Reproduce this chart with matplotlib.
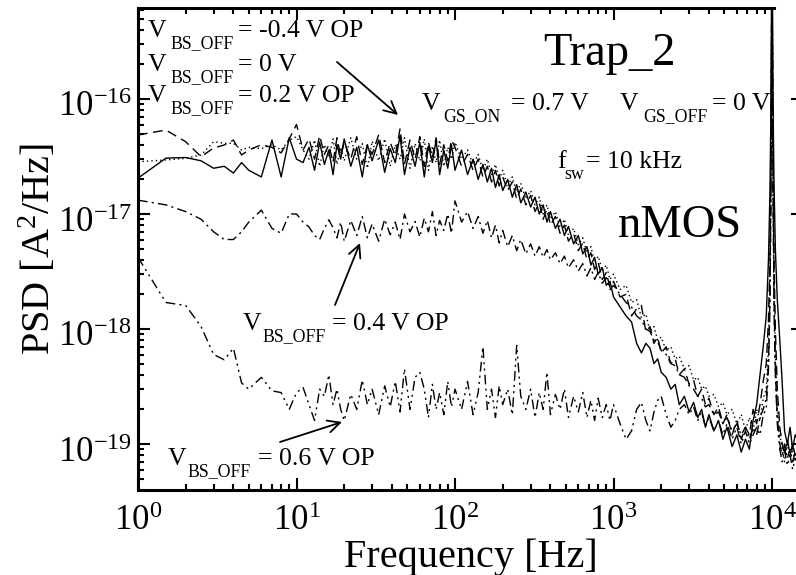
import numpy as np
import matplotlib
matplotlib.use("Agg")
import matplotlib.pyplot as plt
import matplotlib.transforms as mtransforms
from matplotlib.ticker import LogLocator, LogFormatterSciNotation, NullFormatter

plt.rcParams["font.family"] = ["Liberation Serif", "DejaVu Serif"]
plt.rcParams["mathtext.fontset"] = "custom"
plt.rcParams["mathtext.rm"] = "Liberation Serif"
plt.rcParams["mathtext.it"] = "Liberation Serif:italic"
plt.rcParams["mathtext.bf"] = "Liberation Serif:bold"
plt.rcParams["axes.unicode_minus"] = False

# Frequency points [Hz]
freq = [
    1, 1.5, 2, 2.5, 3, 3.5, 4, 4.5, 5, 6, 7, 8, 9,
    10, 11, 12, 13, 14, 15, 16, 17, 18, 19, 20, 22, 24, 26, 28, 30, 33, 36, 39, 42, 45, 48,
    52, 56, 60, 64, 68, 72, 76, 80, 85, 90, 95,
    100, 110, 120, 130, 140, 150, 160, 170, 180, 190, 200, 215, 230, 245, 260, 280, 300, 320,
    340, 360, 380, 400, 430, 460, 490, 520, 560, 600, 640, 680, 720, 760, 800, 850, 900, 950,
    1000, 1100, 1200, 1300, 1400, 1500, 1600, 1700, 1800, 1900, 2000, 2150, 2300, 2450, 2600,
    2800, 3000, 3200, 3400, 3600, 3800, 4000, 4300, 4600, 4900, 5200, 5600, 6000, 6400, 6800,
    7200, 7600, 8000, 8400, 8800,
    9200, 9500, 9700, 9850, 10000, 10150, 10300, 10500, 10800, 11200, 11600, 12000, 12500,
    13000, 13500, 14000, 15000,
]

# Drain-current noise PSD in units of 1e-18 A^2/Hz, one list per body bias
psd_bs_0 = [  # V_BS_OFF = 0 V (solid)
    20.5, 30.6, 31, 29, 25, 26, 22.7, 28, 24, 21, 44, 21, 46,
    30, 28, 38, 24, 42, 27, 36, 22, 40, 30, 45, 26, 38, 21, 40, 29, 44, 23, 37, 28, 48, 22,
    38, 26, 42, 21, 39, 28, 44, 22, 36, 25, 40,
    24, 36, 22, 30, 20, 27, 19, 25, 17, 22, 16, 20, 14, 18, 12.5, 15.5, 11.5, 14,
    10, 12, 8.5, 10.5, 7.5, 9, 6.5, 7.8, 5.5, 6.5, 4.5, 5.2, 3.6, 4.2, 3.0, 3.4, 2.4, 2.6,
    1.9, 1.56, 1.3, 1.15, 0.75, 0.62, 0.75, 0.68, 0.5, 0.55, 0.42, 0.38, 0.3, 0.33, 0.22,
    0.26, 0.19, 0.23, 0.17, 0.2, 0.14, 0.18, 0.13, 0.16, 0.11, 0.14, 0.095, 0.12, 0.085, 0.11,
    0.09, 0.16, 0.22, 0.4, 0.7,
    1.3, 4, 15, 80, 3000, 90, 18, 5, 1.8, 0.8, 0.34, 0.13, 0.1,
    0.14, 0.09, 0.12, 0.1,
]
psd_bs_m04 = [  # V_BS_OFF = -0.4 V OP (dashed)
    48.6, 53.7, 42.5, 31.5, 37.5, 39.8, 44, 32.6, 36, 40, 38, 34, 45,
    60, 36, 45, 30, 48, 33, 40, 28, 46, 32, 42, 30, 47, 27, 40, 33, 49, 28, 42, 32, 55, 27,
    44, 30, 47, 26, 42, 31, 46, 27, 40, 29, 44,
    38, 26, 33, 24, 30, 21, 26, 19, 24, 17.5, 21, 16, 19, 13.5, 16.5, 12, 14.5, 10.5,
    12.5, 9, 11, 8, 9.5, 6.8, 8, 5.8, 6.8, 4.8, 5.6, 4, 4.6, 3.3, 3.8, 2.7, 3.1, 2.3,
    2.6, 1.9, 2.0, 1.3, 1.5, 1.6, 0.95, 1.05, 0.75, 0.85, 0.62, 0.7, 0.5, 0.55, 0.4,
    0.45, 0.33, 0.36, 0.26, 0.3, 0.22, 0.25, 0.18, 0.21, 0.15, 0.18, 0.12, 0.16, 0.11, 0.14,
    0.12, 0.2, 0.15, 0.22, 0.35,
    0.5, 1.2, 4, 30, 2500, 30, 4, 1.0, 0.3, 0.14, 0.1, 0.08, 0.11,
    0.08, 0.1, 0.08, 0.09,
]
psd_bs_p02 = [  # V_BS_OFF = 0.2 V OP (dotted)
    28.5, 29.5, 30.5, 32.6, 42.5, 41.2, 41.2, 36, 38, 37, 40, 36, 44,
    47, 36, 30, 44, 26, 40, 31, 45, 27, 38, 29, 46, 30, 41, 25, 43, 29, 45, 26, 40, 30, 46,
    25, 41, 29, 45, 24, 39, 28, 44, 26, 38, 30,
    42, 30, 36, 27, 33, 24, 30, 22, 27, 20, 24, 17.5, 21, 15.5, 18.5, 13.5, 16, 12,
    14, 10, 12, 9, 10.5, 7.6, 9, 6.5, 7.5, 5.4, 6.2, 4.6, 5.2, 3.8, 4.3, 3.2, 3.6, 2.7,
    3.0, 2.2, 2.4, 1.7, 1.8, 1.25, 1.35, 0.95, 1.05, 0.8, 0.85, 0.65, 0.7, 0.55, 0.58,
    0.45, 0.48, 0.36, 0.38, 0.3, 0.32, 0.26, 0.27, 0.21, 0.23, 0.18, 0.2, 0.15, 0.18, 0.13,
    0.17, 0.13, 0.2, 0.16, 0.25,
    0.3, 0.7, 2.5, 25, 2500, 25, 2.5, 0.6, 0.2, 0.12, 0.09, 0.07, 0.1,
    0.075, 0.09, 0.07, 0.08,
]
psd_bs_p04 = [  # V_BS_OFF = 0.4 V OP (dash-dot)
    13.2, 12, 10.5, 9, 7, 6, 6, 7, 8.5, 10.8, 7.5, 6.8, 10,
    10, 8.5, 7.7, 6.5, 6, 7.5, 8.9, 7.6, 6.2, 8.5, 5.8, 8.8, 6.5, 9.5, 6.2, 8.2, 5.8, 9, 6.6,
    8.5, 6, 10, 7, 8.6, 6.3, 9.2, 7, 10.5, 6.5, 8.8, 7.2, 10, 6.8,
    13, 8.5, 10.5, 7.5, 9.5, 6.8, 8.8, 6.2, 8, 5.6, 7.2, 5.2, 6.5, 4.8, 6, 4.5, 5.5, 4.3,
    5.2, 4.2, 4.9, 4, 4.6, 3.7, 4.3, 3.4, 4.0, 3.2, 3.7, 2.9, 3.4, 2.7, 3.1, 2.5, 2.8, 2.2,
    2.4, 2.0, 1.7, 1.55, 1.3, 1.2, 1.0, 0.95, 0.8, 0.78, 0.65, 0.6, 0.5, 0.48, 0.4,
    0.38, 0.32, 0.3, 0.26, 0.25, 0.21, 0.22, 0.18, 0.19, 0.15, 0.17, 0.13, 0.15, 0.12, 0.14,
    0.11, 0.14, 0.12, 0.17, 0.2,
    0.25, 0.5, 1.8, 20, 2500, 20, 1.8, 0.45, 0.17, 0.1, 0.08, 0.1, 0.075,
    0.09, 0.07, 0.085, 0.07,
]
psd_bs_p06 = [  # V_BS_OFF = 0.6 V OP (dash-dot-dot)
    4.2, 1.7, 1.6, 1.05, 0.6, 0.54, 0.68, 0.34, 0.3, 0.38, 0.29, 0.28, 0.2,
    0.28, 0.31, 0.22, 0.16, 0.3, 0.26, 0.4, 0.22, 0.3, 0.2, 0.16, 0.27, 0.2, 0.36, 0.22, 0.3,
    0.18, 0.32, 0.21, 0.35, 0.19, 0.45, 0.2, 0.38, 0.42, 0.3, 0.17, 0.33, 0.2, 0.28, 0.18,
    0.35, 0.21,
    0.3, 0.2, 0.35, 0.18, 0.28, 0.7, 0.2, 0.3, 0.17, 0.32, 0.22, 0.3, 0.18, 0.72, 0.26, 0.2,
    0.3, 0.17, 0.28, 0.2, 0.42, 0.18, 0.27, 0.2, 0.3, 0.17, 0.26, 0.19, 0.28, 0.17, 0.24,
    0.16, 0.25, 0.17, 0.22, 0.16,
    0.22, 0.15, 0.11, 0.13, 0.2, 0.23, 0.16, 0.13, 0.19, 0.24, 0.26, 0.18, 0.14, 0.16, 0.2,
    0.22, 0.18, 0.21, 0.16, 0.19, 0.14, 0.17, 0.13, 0.16, 0.12, 0.15, 0.11, 0.14, 0.1, 0.13,
    0.1, 0.12, 0.14, 0.12, 0.18,
    0.2, 0.45, 1.5, 15, 2000, 15, 1.5, 0.4, 0.15, 0.09, 0.07, 0.09, 0.065,
    0.08, 0.06, 0.075, 0.065,
]

x_ticks = [1, 10, 100, 1000, 10000]
y_ticks = [1e-19, 1e-18, 1e-17, 1e-16]

series = [
    (psd_bs_0, "-"),
    (psd_bs_m04, (0, (7, 4))),
    (psd_bs_p02, (0, (1, 2.2))),
    (psd_bs_p04, (0, (7, 3, 1.5, 3))),
    (psd_bs_p06, (0, (7, 3, 1.5, 3, 1.5, 3))),
]

W, H = 796, 575
fig = plt.figure(figsize=(W / 100, H / 100), dpi=100)
ax = fig.add_axes([138 / W, 1 - 490 / H, (803 - 138) / W, (490 - 8) / H])

f = np.asarray(freq, dtype=float)
for vals, ls in series:
    ax.plot(f, np.asarray(vals) * 1e-18, color="black", lw=1.0, linestyle=ls)

ax.set_xscale("log")
ax.set_yscale("log")
ax.set_xlim(1, 10 ** ((803 - 138) / 158.5))
ax.set_ylim(10 ** (-19 - 46 / 115), 10 ** (-16 + 91 / 115))

ax.set_xticks(x_ticks)
ax.set_yticks(y_ticks)
ax.xaxis.set_minor_locator(LogLocator(base=10, subs=np.arange(2, 10), numticks=20))
ax.yaxis.set_minor_locator(LogLocator(base=10, subs=np.arange(2, 10), numticks=20))
ax.xaxis.set_major_formatter(LogFormatterSciNotation())
ax.yaxis.set_major_formatter(LogFormatterSciNotation())
ax.xaxis.set_minor_formatter(NullFormatter())
ax.yaxis.set_minor_formatter(NullFormatter())

for sp in ax.spines.values():
    sp.set_linewidth(2.2)
ax.spines["top"].set_bounds(1, 10 ** ((774 - 138) / 158.5))

ax.tick_params(which="both", direction="in", top=True, right=True, width=1.5)
ax.tick_params(which="major", length=8.5, labelsize=25)
ax.tick_params(which="minor", length=4.3)
ax.tick_params(axis="x", which="major", pad=11)
ax.tick_params(axis="y", which="major", pad=4)

shift = mtransforms.ScaledTranslation(0, -5 / 100, fig.dpi_scale_trans)
for lab in ax.get_yticklabels():
    lab.set_transform(lab.get_transform() + shift)

ax.set_xlabel("Frequency [Hz]", fontsize=29, labelpad=0)
ax.set_ylabel(r"PSD [A$^2$/Hz]", fontsize=29, labelpad=-1)

MAIN, SUB = 18.5, 12.8


def put(x, y, s, size):
    fig.text(x / W, 1 - y / H, s, fontsize=size, ha="left", va="baseline")


def subscripted(x_sym, x_sub, x_rest, base, sym, sub, rest):
    put(x_sym, base, sym, MAIN)
    put(x_sub, base + 11, sub, SUB)
    put(x_rest, base, rest, MAIN)


subscripted(148, 170, 238, 37, "V", "BS_OFF", "= -0.4 V OP")
subscripted(148, 170, 238, 71, "V", "BS_OFF", "= 0 V")
subscripted(148, 170, 238, 102, "V", "BS_OFF", "= 0.2 V OP")
subscripted(243, 262, 332, 330, "V", "BS_OFF", "= 0.4 V OP")
subscripted(168, 187, 258, 465, "V", "BS_OFF", "= 0.6 V OP")
subscripted(422, 443, 511, 110, "V", "GS_ON", "= 0.7 V")
subscripted(620, 643, 712, 110, "V", "GS_OFF", "= 0 V")
subscripted(557, 564, 586, 168, "f", "sw", "= 10 kHz")
put(543, 65, "Trap_2", 33.5)
put(618, 237, "nMOS", 33.5)


def arrow(x0, y0, x1, y1):
    ax.annotate("", xy=(x1 / W, 1 - y1 / H), xytext=(x0 / W, 1 - y0 / H),
                xycoords="figure fraction", textcoords="figure fraction",
                arrowprops=dict(arrowstyle="->", lw=1.3, color="black",
                                mutation_scale=22, shrinkA=0, shrinkB=0))


arrow(337, 62, 398, 115)
arrow(335, 305, 360, 243)
arrow(280, 442, 342, 422)

fig.savefig("out.png", dpi=100)
